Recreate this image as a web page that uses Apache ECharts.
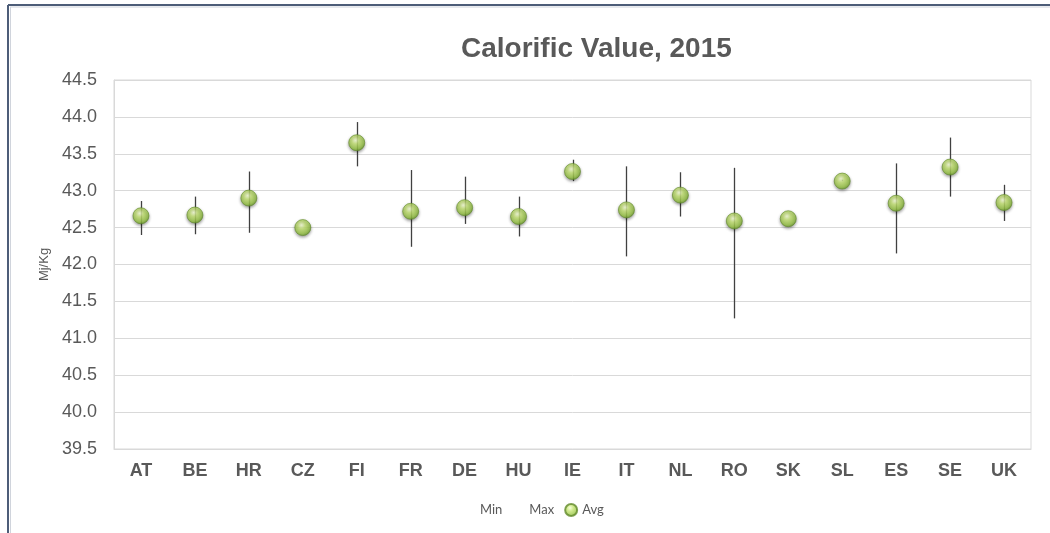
<!DOCTYPE html>
<html>
<head>
<meta charset="utf-8">
<script src="https://cdn.jsdelivr.net/npm/echarts@6/dist/echarts.min.js"></script>
<style>
html,body{margin:0;padding:0;background:#fff;}
#chart{width:1050px;height:533px;}
</style>
</head>
<body>
<div id="chart"></div>
<script>
var categories = ['AT','BE','HR','CZ','FI','FR','DE','HU','IE','IT','NL','RO','SK','SL','ES','SE','UK'];
var avgValues = [42.66, 42.67, 42.90, 42.50, 43.65, 42.72, 42.77, 42.65, 43.26, 42.74, 42.94, 42.59, 42.62, 43.13, 42.83, 43.32, 42.84];
var minValues = [42.40, 42.41, 42.43, 42.50, 43.33, 42.24, 42.55, 42.38, 43.13, 42.11, 42.65, 41.27, 42.62, 43.13, 42.15, 42.92, 42.59];
var maxValues = [42.86, 42.92, 43.26, 42.50, 43.93, 43.28, 43.19, 42.92, 43.42, 43.33, 43.25, 43.31, 42.62, 43.15, 43.37, 43.72, 43.08];
var yMin = 39.5, yMax = 44.5, yStep = 0.5;
var titleText = 'Calorific Value, 2015';
var yAxisName = 'Mj/Kg';

var chart = echarts.init(document.getElementById('chart'), null, {renderer:'canvas'});
var txt = '#595959';
var sphere = {
  type: 'radial', x: 0.42, y: 0.35, r: 0.65,
  colorStops: [
    {offset: 0, color: '#f6ffd6'},
    {offset: 0.35, color: '#c6e574'},
    {offset: 0.8, color: '#97c443'},
    {offset: 1, color: '#6b9a2a'}
  ]
};
var hl = categories.map(function(c, i){ return [i, minValues[i], maxValues[i]]; });

chart.setOption({
  backgroundColor: '#ffffff',
  animation: false,
  title: {
    text: titleText, left: 456, top: 30,
    textStyle: {fontFamily: 'Liberation Sans', fontWeight: 'bold', fontSize: 28, color: txt}
  },
  graphic: [
    {type: 'line', shape: {x1: 8, y1: 5, x2: 1050, y2: 5}, style: {stroke: '#4d5d78', lineWidth: 2}},
    {type: 'line', shape: {x1: 8, y1: 5, x2: 8, y2: 533}, style: {stroke: '#4d5d78', lineWidth: 2}},
    {type: 'line', shape: {x1: 10, y1: 7, x2: 1050, y2: 7}, style: {stroke: '#d0d4dc', lineWidth: 1}},
    {type: 'line', shape: {x1: 10.5, y1: 7, x2: 10.5, y2: 533}, style: {stroke: '#d0d4dc', lineWidth: 1}}
  ],
  legend: {
    left: 458, top: 498, itemWidth: 12, itemHeight: 12, itemGap: 10,
    textStyle: {fontFamily: 'Lato', fontSize: 13, color: txt},
    data: [
      {name: 'Min', icon: 'circle', itemStyle: {opacity: 0}},
      {name: 'Max', icon: 'circle', itemStyle: {opacity: 0}},
      {name: 'Avg', icon: 'circle'}
    ]
  },
  grid: {left: 114, right: 19, top: 80, bottom: 84, show: true, borderColor: '#d9d9d9', borderWidth: 1},
  xAxis: {
    type: 'category', data: categories, boundaryGap: true,
    axisTick: {show: false},
    axisLine: {lineStyle: {color: '#d9d9d9'}},
    axisLabel: {color: txt, fontFamily: 'Liberation Sans', fontWeight: 'bold', fontSize: 18, margin: 13}
  },
  yAxis: {
    type: 'value', min: yMin, max: yMax, interval: yStep,
    name: yAxisName, nameLocation: 'middle', nameGap: 62, nameRotate: 90,
    nameTextStyle: {color: txt, fontFamily: 'Liberation Sans', fontSize: 13},
    axisLine: {show: true, lineStyle: {color: '#d9d9d9'}},
    axisTick: {show: false},
    splitLine: {lineStyle: {color: '#d9d9d9'}},
    axisLabel: {color: txt, fontFamily: 'Liberation Sans', fontSize: 18, margin: 17,
      formatter: function(v){ return v.toFixed(1); }}
  },
  series: [
    {name: 'Min', type: 'line', data: minValues, symbol: 'none', lineStyle: {opacity: 0}, itemStyle: {color: '#ffffff'}, silent: true},
    {name: 'Max', type: 'line', data: maxValues, symbol: 'none', lineStyle: {opacity: 0}, itemStyle: {color: '#ffffff'}, silent: true},
    {
      name: 'HighLow', type: 'custom', data: hl, z: 3, silent: true,
      renderItem: function(params, api){
        var i = api.value(0);
        var p1 = api.coord([i, api.value(1)]);
        var p2 = api.coord([i, api.value(2)]);
        var x = Math.round(p1[0]) + 0.5;
        return {type: 'line', shape: {x1: x, y1: p1[1], x2: x, y2: p2[1]},
          style: {stroke: '#404040', lineWidth: 1.3}};
      }
    },
    {
      name: 'Avg', type: 'scatter', data: avgValues, symbol: 'circle', symbolSize: 16, z: 5,
      itemStyle: {color: sphere, borderColor: '#628a2a', borderWidth: 0.8,
        shadowBlur: 3, shadowColor: 'rgba(0,0,0,0.45)', shadowOffsetY: 1.5}
    }
  ]
});
</script>
</body>
</html>
